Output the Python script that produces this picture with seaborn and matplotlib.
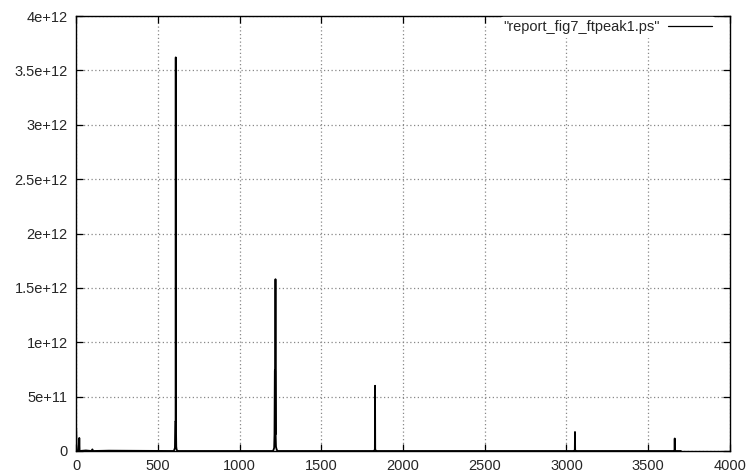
import matplotlib
matplotlib.use("Agg")
import matplotlib.pyplot as plt
import pandas as pd
import seaborn as sns

# Fourier magnitude spectrum: frequency bins and their magnitudes
freq = [1, 3, 6, 10, 18, 20, 22, 60, 96, 100, 104, 200,
        598, 602, 605, 607, 609, 610, 611, 613, 615, 618, 622, 640,
        1205, 1209, 1212, 1214, 1216, 1218, 1219, 1220, 1221, 1223, 1226, 1229, 1233, 1240,
        1822, 1826, 1828, 1829, 1830, 1832, 1836,
        3045, 3049, 3051, 3052, 3053, 3055, 3058,
        3655, 3659, 3661, 3662, 3663, 3665, 3668, 3700]
mag = [2.1e11, 6e10, 1e10, 0, 0, 1.2e11, 0, 5e9, 0, 1.5e10, 0, 3e9,
       0, 1.5e10, 3e10, 2.7e11, 2.7e11, 3.62e12, 2.7e11, 4e10, 1.5e10, 5e9, 0, 0,
       0, 1.5e10, 3e10, 1.5e11, 7.4e11, 7.4e11, 1.5e11, 1.58e12, 1.5e11, 4e10, 2e10, 8e9, 0, 0,
       0, 5e9, 2e10, 6e11, 2e10, 5e9, 0,
       0, 5e9, 1e10, 1.75e11, 1e10, 3e9, 0,
       0, 3e9, 8e9, 1.15e11, 8e9, 3e9, 0, 0]

x_ticks = [0, 500, 1000, 1500, 2000, 2500, 3000, 3500, 4000]
y_ticks = [0, 5e11, 1e12, 1.5e12, 2e12, 2.5e12, 3e12, 3.5e12, 4e12]
y_tick_labels = ["0", "5e+11", "1e+12", "1.5e+12", "2e+12", "2.5e+12",
                 "3e+12", "3.5e+12", "4e+12"]
series_label = '"report_fig7_ftpeak1.ps"'

sns.set_style("white")
plt.rcParams["font.family"] = ["Liberation Sans", "DejaVu Sans"]
plt.rcParams["font.size"] = 10.5

df = pd.DataFrame({"freq": freq, "mag": mag})

fig = plt.figure(figsize=(7.49, 4.72), dpi=100)
ax = fig.add_axes([0.1015, 0.0445, 0.8731, 0.9215])

sns.lineplot(data=df, x="freq", y="mag", sort=False, estimator=None,
             color="black", linewidth=1.3, label=series_label, ax=ax)

ax.set_xlim(0, 4000)
ax.set_ylim(0, 4e12)
ax.set_xticks(x_ticks)
ax.set_xticklabels([str(t) for t in x_ticks])
ax.set_yticks(y_ticks)
ax.set_yticklabels(y_tick_labels)
ax.set_xlabel("")
ax.set_ylabel("")

ax.grid(True, color="#888888", linestyle=(0, (1, 2)), linewidth=0.9)
ax.set_axisbelow(True)
ax.tick_params(direction="in", length=5, width=0.9, color="black",
               top=True, right=True, bottom=True, left=True,
               labelsize=10.5, pad=6)
for sp in ax.spines.values():
    sp.set_color("black")
    sp.set_linewidth(1.0)

leg = ax.legend(loc="upper right", bbox_to_anchor=(0.977, 0.998),
                frameon=True, markerfirst=False,
                handlelength=3.0, handletextpad=0.6, borderaxespad=0.0,
                borderpad=0.2, fontsize=10.5)
leg.get_frame().set_edgecolor("white")
leg.get_frame().set_facecolor("white")
leg.get_frame().set_alpha(1.0)
for line in leg.get_lines():
    line.set_linewidth(0.9)

fig.savefig("out.png", dpi=100)
